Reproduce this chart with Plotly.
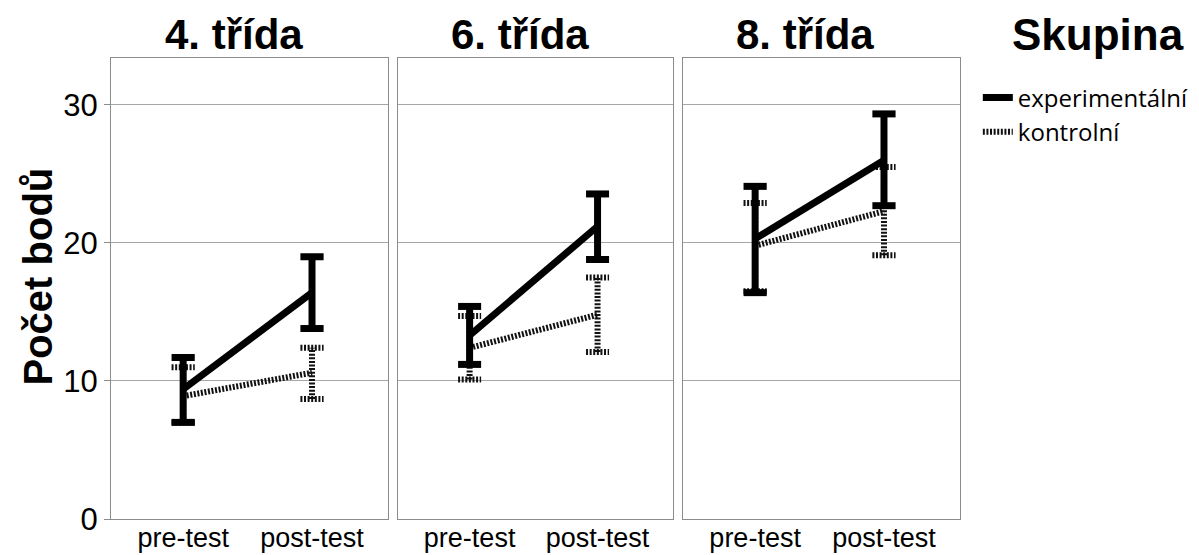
import plotly.graph_objects as go

# ---- data ----
panels = ["4. třída", "6. třída", "8. třída"]
phases = ["pre-test", "post-test"]
groups = ["experimentální", "kontrolní"]

exp_mean = [[9.4, 16.4], [13.3, 21.2], [20.3, 26.0]]
exp_low = [[7.0, 13.8], [11.2, 18.8], [16.4, 22.7]]
exp_high = [[11.7, 19.0], [15.4, 23.55], [24.1, 29.35]]

ctl_mean = [[8.9, 10.6], [12.4, 14.8], [19.8, 22.3]]
ctl_low = [[7.0, 8.7], [10.1, 12.1], [16.5, 19.1]]
ctl_high = [[11.0, 12.4], [14.7, 17.5], [22.9, 25.5]]

y_ticks = [0, 10, 20, 30]

FONT = "Liberation Sans, Arial, sans-serif"
CAP = 0.09  # half cap width in category units

fig = go.Figure()

domains = [[0.0, 0.3263], [0.338, 0.662], [0.6737, 1.0]]


def err_path(low, high):
    xs, ys = [], []
    for i in range(len(phases)):
        xs += [i, i, None, i - CAP, i + CAP, None, i - CAP, i + CAP, None]
        ys += [low[i], high[i], None, low[i], low[i], None, high[i], high[i], None]
    return xs, ys


for p in range(3):
    xa = "x" if p == 0 else f"x{p+1}"
    ya = "y" if p == 0 else f"y{p+1}"
    idx = list(range(len(phases)))
    # control group
    ex, ey = err_path(ctl_low[p], ctl_high[p])
    fig.add_trace(go.Scatter(x=ex, y=ey, mode="lines", xaxis=xa, yaxis=ya,
                             line=dict(color="#111111", width=6, dash="2px,1.6px"),
                             showlegend=False, hoverinfo="skip"))
    fig.add_trace(go.Scatter(x=idx, y=ctl_mean[p], mode="lines", xaxis=xa, yaxis=ya,
                             name=groups[1], legendrank=2,
                             line=dict(color="#111111", width=6, dash="2px,1.6px"),
                             showlegend=(p == 0)))
    # experimental group
    ex, ey = err_path(exp_low[p], exp_high[p])
    fig.add_trace(go.Scatter(x=ex, y=ey, mode="lines", xaxis=xa, yaxis=ya,
                             line=dict(color="black", width=7),
                             showlegend=False, hoverinfo="skip"))
    fig.add_trace(go.Scatter(x=idx, y=exp_mean[p], mode="lines", xaxis=xa, yaxis=ya,
                             name=groups[0], legendrank=1,
                             line=dict(color="black", width=7),
                             showlegend=(p == 0)))

    fig.update_layout(**{
        ("xaxis" if p == 0 else f"xaxis{p+1}"): dict(
            domain=domains[p], range=[-0.56, 1.59], anchor=ya,
            tickmode="array", tickvals=idx, ticktext=phases,
            showgrid=False, zeroline=False, showline=True, mirror=True,
            linecolor="#8c8c8c", linewidth=1, ticks="", automargin=False,
            ticklabelstandoff=-5,
            tickfont=dict(family=FONT, size=27, color="black")),
        ("yaxis" if p == 0 else f"yaxis{p+1}"): dict(
            domain=[0, 1], range=[0, 33.4], anchor=xa,
            tickmode="array", tickvals=y_ticks, automargin=False,
            showticklabels=(p == 0),
            ticks="outside" if p == 0 else "", ticklen=6, tickcolor="#8c8c8c",
            showgrid=True, gridcolor="#a6a6a6", gridwidth=1, zeroline=False,
            showline=True, mirror=True, linecolor="#8c8c8c", linewidth=1,
            tickfont=dict(family=FONT, size=31, color="black")),
    })
    fig.add_annotation(text=f"<b>{panels[p]}</b>", xref="paper", yref="paper",
                       x=(domains[p][0] + domains[p][1]) / 2, y=1, yshift=24,
                       xshift=-16,
                       xanchor="center", yanchor="middle", showarrow=False,
                       font=dict(family=FONT, size=42, color="black"))

fig.add_annotation(text="<b>Počet bodů</b>", xref="paper", yref="paper",
                   x=0, xshift=-74, y=0.5, yshift=12, textangle=-90,
                   xanchor="center", yanchor="middle", showarrow=False,
                   font=dict(family=FONT, size=40, color="black"))
fig.add_annotation(text="<b>Skupina</b>", xref="paper", yref="paper",
                   x=1, xshift=50, y=1, yshift=24,
                   xanchor="left", yanchor="middle", showarrow=False,
                   font=dict(family=FONT, size=44, color="black"))

fig.update_layout(
    width=1199, height=555,
    margin=dict(l=111, r=239, t=58, b=36, autoexpand=False),
    paper_bgcolor="white", plot_bgcolor="white",
    showlegend=True,
    legend=dict(x=1.021, y=0.962, yanchor="top", xanchor="left",
                font=dict(family="Open Sans, sans-serif", size=24, color="black"),
                bgcolor="rgba(0,0,0,0)", itemwidth=30,
                traceorder="normal"),
)

fig.write_html("out.html", config={"displayModeBar": False},
               post_script="document.body.style.margin='0px';")
